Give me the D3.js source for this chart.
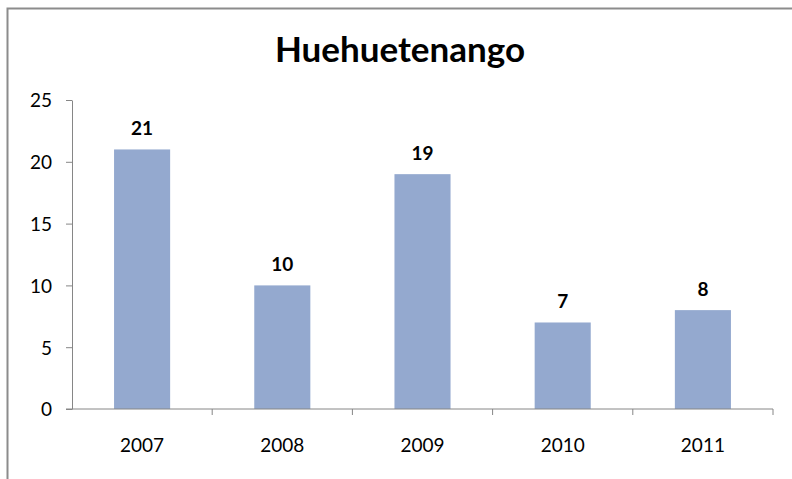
<!DOCTYPE html>
<html>
<head>
<meta charset="utf-8">
<script src="https://cdn.jsdelivr.net/npm/d3@7"></script>
<style>
  body { margin: 0; background: #fff; }
  text { font-family: Lato, "Open Sans", sans-serif; }
</style>
</head>
<body>
<script>
// chart data
var years = ["2007", "2008", "2009", "2010", "2011"];
var counts = [21, 10, 19, 7, 8];
var yTicks = [0, 5, 10, 15, 20, 25];
var title = "Huehuetenango";

var width = 792, height = 479;
var margin = {top: 100, right: 19, bottom: 70, left: 72};

var svg = d3.select("body").append("svg")
    .attr("width", width)
    .attr("height", height);

// chart frame (only top and left visible)
svg.append("path")
    .attr("d", "M7.5," + height + "V8.5H" + width)
    .attr("fill", "none")
    .attr("stroke", "#8c8c8c")
    .attr("stroke-width", 2);

var x = d3.scaleBand()
    .domain(years)
    .range([margin.left, width - margin.right])
    .paddingInner(0.6)
    .paddingOuter(0.3);

var y = d3.scaleLinear()
    .domain([0, 25])
    .range([height - margin.bottom, margin.top]);

// title
svg.append("text")
    .attr("x", 400)
    .attr("y", 62)
    .attr("text-anchor", "middle")
    .style("font-size", "35px")
    .style("font-weight", "bold")
    .attr("fill", "#000")
    .text(title);

// bars
svg.selectAll("rect.bar")
    .data(counts)
    .enter().append("rect")
    .attr("class", "bar")
    .attr("x", function(d, i) { return x(years[i]); })
    .attr("y", function(d) { return y(d); })
    .attr("width", x.bandwidth())
    .attr("height", function(d) { return y(0) - y(d); })
    .attr("fill", "#94a9cf");

// value labels
svg.selectAll("text.val")
    .data(counts)
    .enter().append("text")
    .attr("class", "val")
    .attr("x", function(d, i) { return x(years[i]) + x.bandwidth() / 2; })
    .attr("y", function(d) { return y(d) - 14; })
    .attr("text-anchor", "middle")
    .style("font-size", "19px")
    .style("font-weight", "bold")
    .attr("fill", "#000")
    .text(function(d) { return d; });

// y axis
var yAxis = svg.append("g")
    .attr("transform", "translate(" + margin.left + ",0)")
    .call(d3.axisLeft(y).tickValues(yTicks).tickSize(6).tickPadding(14).tickSizeOuter(0));

// x axis, ticks at category boundaries
var xEdge = d3.scaleLinear().domain([0, years.length]).range([margin.left, width - margin.right]);
var xAxis = svg.append("g")
    .attr("transform", "translate(0," + y(0) + ")");
xAxis.append("line")
    .attr("x1", margin.left - 6)
    .attr("x2", width - margin.right)
    .attr("stroke", "#868686");
xAxis.selectAll("line.tk")
    .data(d3.range(1, years.length + 1))
    .enter().append("line")
    .attr("class", "tk")
    .attr("x1", function(d) { return xEdge(d); })
    .attr("x2", function(d) { return xEdge(d); })
    .attr("y2", 6)
    .attr("stroke", "#868686");
xAxis.selectAll("text")
    .data(years)
    .enter().append("text")
    .attr("x", function(d) { return x(d) + x.bandwidth() / 2; })
    .attr("y", 43)
    .attr("text-anchor", "middle")
    .style("font-size", "19px")
    .attr("fill", "#000")
    .text(function(d) { return d; });

yAxis.select(".domain").attr("stroke", "#868686");
yAxis.selectAll(".tick line").attr("stroke", "#868686");
yAxis.selectAll(".tick text")
    .attr("dy", "0.36em")
    .style("font-size", "19px")
    .style("font-family", "Lato, sans-serif")
    .attr("fill", "#000");
</script>
</body>
</html>
